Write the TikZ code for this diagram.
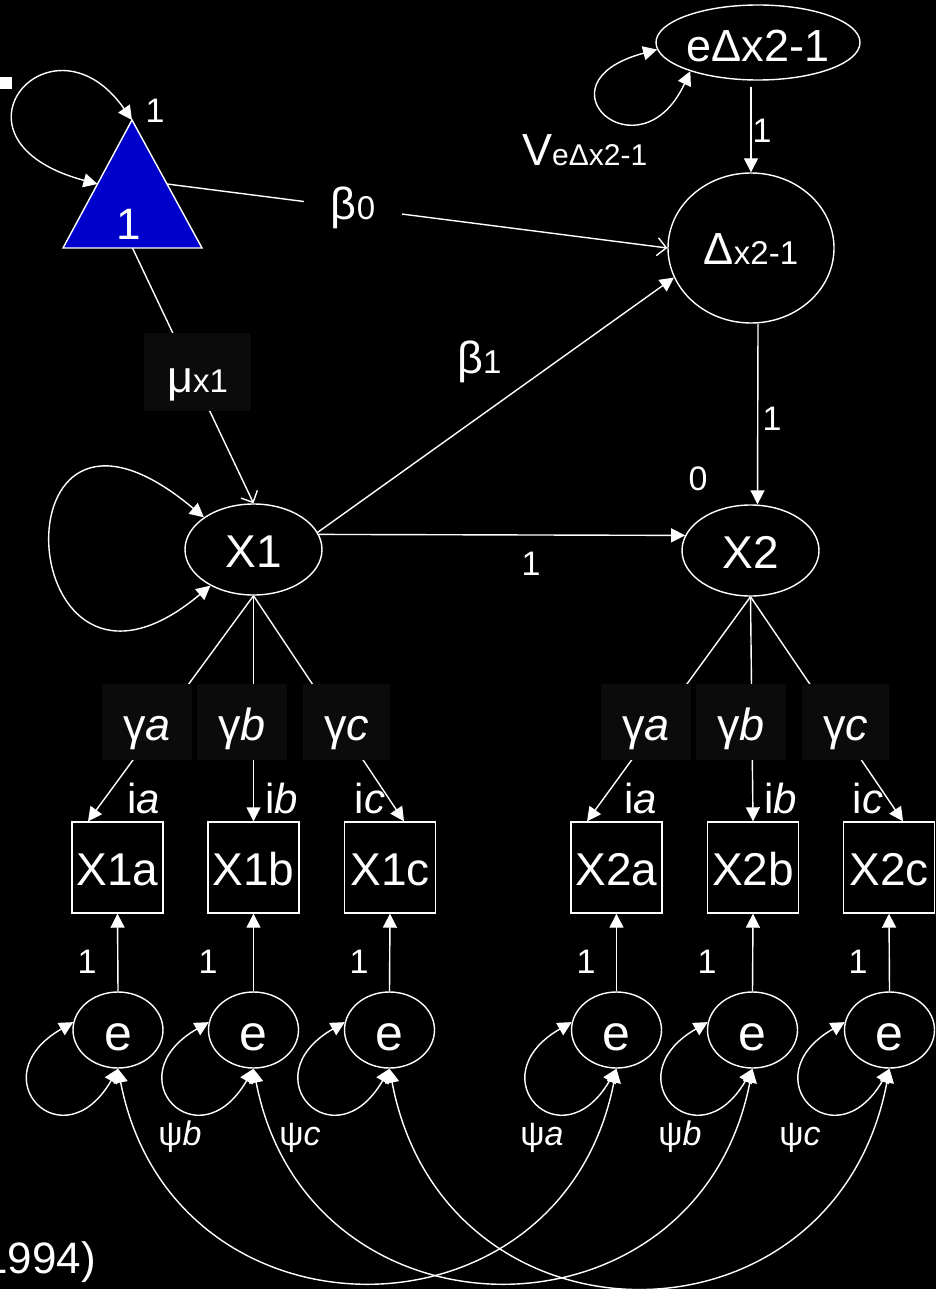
\documentclass[tikz,border=0pt]{standalone}
\usepackage{fontspec}
\setmainfont{Liberation Sans}
\usetikzlibrary{shapes.geometric,arrows.meta}
\definecolor{triblue}{RGB}{0,0,204}
\definecolor{boxgrey}{RGB}{11,11,11}
\newcommand\setfs[1]{\fontsize{#1}{#1}\selectfont}
\tikzset{
  wl/.style={draw=white, line width=1.4pt},
  lat/.style={ellipse, wl, text=white, inner sep=0pt, text height=35pt, text depth=0pt, font=\setfs{46}},
  obs/.style={rectangle, wl, minimum width=91pt, minimum height=91pt, inner sep=0pt, text=white, text height=35pt, text depth=0pt, font=\setfs{46}},
  err/.style={ellipse, wl, minimum width=90pt, minimum height=76pt, inner sep=0pt, text=white, text height=40pt, text depth=0pt, font=\setfs{50}},
  lbox/.style={fill=boxgrey, text=white, inner sep=0pt, text height=40pt, text depth=4pt, minimum height=76pt, font=\setfs{45}},
  num/.style={text=white, inner sep=0pt, anchor=base, font=\setfs{34}},
  ilab/.style={text=white, inner sep=0pt, anchor=base, font=\setfs{42}},
  arr/.style={wl, -{Triangle[length=14pt,width=14pt]}},
  barb/.style={wl, -{Straight Barb[length=9pt,width=18pt]}},
  cov/.style={wl, {Triangle[length=14pt,width=14pt]}-{Triangle[length=14pt,width=14pt]}},
}
\begin{document}
\begin{tikzpicture}[x=1pt,y=1pt]
\fill[black] (0,0) rectangle (936,-1289);
\useasboundingbox (0,0) rectangle (936,-1289);
\fill[white] (0,-77) rectangle (12,-89);

% constant triangle
\coordinate (triA) at (132,-120);
\coordinate (triBL) at (63,-248);
\coordinate (triBR) at (202,-248);
\coordinate (triB) at (132.5,-248);
\coordinate (triR) at (167,-184);
\coordinate (triL) at (97.5,-184);
\filldraw[fill=triblue, wl] (triA) -- (triBL) -- (triBR) -- cycle;
\node[num, font=\setfs{44}] (tri) at (129,-240) {1};

% latent nodes
\node[lat, minimum width=204pt, minimum height=75pt, text height=39pt, font=\setfs{45}] (eD) at (758,-42.5) {eΔx2-1};
\node[lat, minimum width=166pt, minimum height=150pt, text height=34pt, font=\setfs{45}] (D) at (751,-248) {Δ{\setfs{33}x2-1}};
\node[lat, minimum width=137pt, minimum height=91pt] (X1) at (253.5,-549.5) {X1};
\node[lat, minimum width=137pt, minimum height=91pt] (X2) at (750.5,-550.5) {X2};

% observed
\node[obs] (X1a) at (117.5,-867.5) {X1a};
\node[obs] (X1b) at (253.5,-867.5) {X1b};
\node[obs] (X1c) at (390,-867.5) {X1c};
\node[obs] (X2a) at (616.5,-867.5) {X2a};
\node[obs] (X2b) at (753,-867.5) {X2b};
\node[obs] (X2c) at (889,-867.5) {X2c};

% errors
\node[err] (e1) at (118,-1030) {e};
\node[err] (e2) at (253.5,-1030) {e};
\node[err] (e3) at (389.5,-1030) {e};
\node[err] (e4) at (616.5,-1030) {e};
\node[err] (e5) at (752.5,-1030) {e};
\node[err] (e6) at (889.5,-1030) {e};

% connectors
\draw[cov] (triA) .. controls +(125:140) and +(165:170) .. (triL);
\node[num] (l1a) at (155,-123) {1};
\draw[barb] (triR) -- node[pos=0.372, fill=black, inner xsep=26.5pt, inner ysep=2pt, text=white, font=\setfs{45}] (b0) {β{\setfs{33}0}} (D.west);
\draw[barb] (triB) -- (X1.north);
\draw[arr] (X1.15) -- (D.201);
\draw[arr] (X1.13) -- (X2.167);
\draw[arr] (D.north |- eD.south) [shorten <=6pt] -- (D.north);
\draw[arr] ([xshift=7pt]D.south) -- ([xshift=7pt]X2.north);
\draw[cov] (eD.184) .. controls +(195:130) and +(245:120) .. (eD.203);
\draw[cov] (X1.147) .. controls +(140:282) and +(220:260) .. (X1.220);

\draw[arr] (X1.south) -- ([xshift=-29.5pt]X1a.north);
\draw[arr] (X1.south) -- (X1b.north);
\draw[arr] (X1.south) -- ([xshift=14pt]X1c.north);
\draw[arr] (X2.south) -- ([xshift=-29.5pt]X2a.north);
\draw[arr] (X2.south) -- (X2b.north);
\draw[arr] (X2.south) -- ([xshift=14pt]X2c.north);

\foreach \e/\x in {e1/X1a,e2/X1b,e3/X1c,e4/X2a,e5/X2b,e6/X2c}{
  \draw[arr] (\e.north) -- (\x.south);
  \draw[cov] (\e.170) .. controls +(210:110) and +(240:110) .. (\e.south);
}
\draw[cov] (e1.south) .. controls +(55,-283) and +(-55,-283) .. (e4.south);
\draw[cov] (e2.south) .. controls +(55,-283) and +(-55,-283) .. (e5.south);
\draw[cov] (e3.south) .. controls +(55,-290) and +(-55,-290) .. (e6.south);

% label boxes
\node[lbox, minimum width=107pt, minimum height=78pt, text height=44pt] (mu) at (197.5,-372) {μ{\setfs{33}x1}};
\node[lbox, minimum width=90pt] (ga1) at (147,-722) {γ\textit{a}};
\node[lbox, minimum width=90pt] (gb1) at (242,-722) {γ\textit{b}};
\node[lbox, minimum width=87pt] (gc1) at (346.5,-722) {γ\textit{c}};
\node[lbox, minimum width=90pt] (ga2) at (646,-722) {γ\textit{a}};
\node[lbox, minimum width=90pt] (gb2) at (741,-722) {γ\textit{b}};
\node[lbox, minimum width=87pt] (gc2) at (845.5,-722) {γ\textit{c}};

% text labels
\node[anchor=base west, inner sep=0pt, text=white, font=\setfs{45}] (b1) at (457,-373) {β{\setfs{33}1}};
\node[anchor=base west, inner sep=0pt, text=white, font=\setfs{45}] (ve) at (522,-166) {V{\setfs{30}eΔx2-1}};
\node[num] (l1b) at (762,-143) {1};
\node[num] (l1c) at (772,-430) {1};
\node[num] (l0) at (698,-490) {0};
\node[num] (l1d) at (531,-575) {1};

\node[ilab] (ia1) at (143.5,-813) {i\textit{a}};
\node[ilab] (ib1) at (282,-813) {i\textit{b}};
\node[ilab] (ic1) at (370,-813) {i\textit{c}};
\node[ilab] (ia2) at (641,-813) {i\textit{a}};
\node[ilab] (ib2) at (781,-813) {i\textit{b}};
\node[ilab] (ic2) at (868,-813) {i\textit{c}};

\node[num] (n1) at (87,-973) {1};
\node[num] (n2) at (208,-973) {1};
\node[num] (n3) at (359,-973) {1};
\node[num] (n4) at (586,-973) {1};
\node[num] (n5) at (707,-973) {1};
\node[num] (n6) at (858,-973) {1};

\node[num] (pb1) at (180,-1145) {ψ\textit{b}};
\node[num] (pc1) at (300,-1145) {ψ\textit{c}};
\node[num] (pa2) at (542,-1145) {ψ\textit{a}};
\node[num] (pb2) at (680,-1145) {ψ\textit{b}};
\node[num] (pc2) at (800,-1145) {ψ\textit{c}};

\node[anchor=base east, inner sep=0pt, text=white, font=\setfs{44}] (cite) at (96,-1273) {1994)};
\end{tikzpicture}
\end{document}
